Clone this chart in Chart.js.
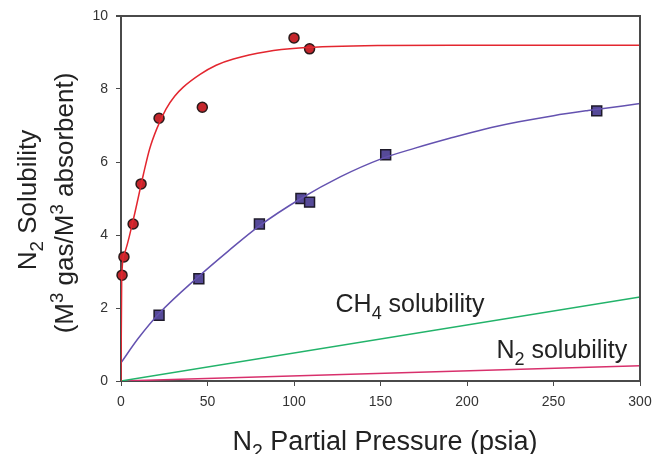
<!DOCTYPE html>
<html>
<head>
<meta charset="utf-8">
<script src="https://cdn.jsdelivr.net/npm/chart.js@4"></script>
<style>
  html, body { margin: 0; padding: 0; background: #fff; }
  #wrap { width: 653px; height: 454px; }
</style>
</head>
<body>
<div id="wrap"><canvas id="solCanvas" width="653" height="454"></canvas></div>
<script>
// measured N2 solubility, absorbent A (circles) and B (squares)
const redX = [0.6, 1.7, 7, 11.6, 22, 47, 100, 109];
const redY = [2.9, 3.4, 4.3, 5.4, 7.2, 7.5, 9.4, 9.1];
const blueX = [22, 45, 80, 104, 109, 153, 275];
const blueY = [1.8, 2.8, 4.3, 5.0, 4.9, 6.2, 7.4];

// fitted curves
const redFitX = [0, 0.4, 2, 7, 12.9, 16.5, 20.6, 26, 31, 36, 45.7, 55, 65, 84, 103, 150, 200, 300];
const redFitY = [0, 2.8, 3.5, 4.4, 5.65, 6.35, 6.9, 7.45, 7.8, 8.05, 8.4, 8.65, 8.82, 9.02, 9.12, 9.19, 9.2, 9.2];
const blueFitX = [0, 10, 22, 45, 62, 80, 104, 127, 150, 170, 190, 210, 230, 250, 270, 300];
const blueFitY = [0.5, 1.17, 1.85, 2.87, 3.56, 4.25, 5.0, 5.6, 6.08, 6.38, 6.65, 6.9, 7.1, 7.27, 7.41, 7.6];

// reference solubility lines
const ch4X = [0, 300];
const ch4Y = [0, 2.3];
const n2X = [0, 300];
const n2Y = [0, 0.42];

const xTicks = [0, 50, 100, 150, 200, 250, 300];
const yTicks = [0, 2, 4, 6, 8, 10];

function pts(xs, ys) {
    return xs.map(function (x, i) { return {x: x, y: ys[i]}; });
}

const FONT = '"Liberation Sans", Arial, sans-serif';

// draw text made of parts, some of them sub- or superscript
function richText(ctx, parts, x, y, size, align) {
    var widths = parts.map(function (p) {
        ctx.font = (p.sub || p.sup ? size * 0.72 : size) + 'px ' + FONT;
        return ctx.measureText(p.t).width;
    });
    var total = widths.reduce(function (a, b) { return a + b; }, 0);
    var cx = align === 'center' ? x - total / 2 : x;
    parts.forEach(function (p, i) {
        var dy = p.sub ? size * 0.28 : (p.sup ? -size * 0.38 : 0);
        ctx.font = (p.sub || p.sup ? size * 0.72 : size) + 'px ' + FONT;
        ctx.fillText(p.t, cx, y + dy);
        cx += widths[i];
    });
}

const decor = {
    id: 'decor',
    afterDraw: function (chart) {
        var ctx = chart.ctx;
        var a = chart.chartArea;
        var xs = chart.scales.x, ys = chart.scales.y;
        ctx.save();
        // frame on top and right
        ctx.strokeStyle = '#4a4a4a';
        ctx.lineWidth = 2;
        ctx.beginPath();
        ctx.moveTo(a.left - 5, a.top);
        ctx.lineTo(a.right, a.top);
        ctx.lineTo(a.right, a.bottom);
        ctx.stroke();

        ctx.fillStyle = '#222';
        ctx.textBaseline = 'alphabetic';
        ctx.textAlign = 'left';
        richText(ctx, [{t: 'CH'}, {t: '4', sub: true}, {t: ' solubility'}],
            xs.getPixelForValue(124), ys.getPixelForValue(1.9), 25, 'left');
        richText(ctx, [{t: 'N'}, {t: '2', sub: true}, {t: ' solubility'}],
            xs.getPixelForValue(217), ys.getPixelForValue(0.63), 25, 'left');

        // axis titles
        richText(ctx, [{t: 'N'}, {t: '2', sub: true}, {t: ' Partial Pressure (psia)'}],
            385, 450, 27, 'center');

        ctx.translate(36, 200);
        ctx.rotate(-Math.PI / 2);
        richText(ctx, [{t: 'N'}, {t: '2', sub: true}, {t: ' Solubility'}], 0, 0, 26, 'center');
        ctx.translate(0, 37);
        richText(ctx, [{t: '(M'}, {t: '3', sup: true}, {t: ' gas/M'}, {t: '3', sup: true}, {t: ' absorbent)'}],
            -3, 0, 26, 'center');
        ctx.restore();
    }
};

const ctx = document.getElementById('solCanvas');

var solChart = new Chart(ctx, {
    type: 'line',
    data: {
        datasets: [
            {
                label: 'fit A',
                data: pts(redFitX, redFitY),
                borderColor: '#e3262f',
                borderWidth: 1.5,
                pointRadius: 0,
                cubicInterpolationMode: 'monotone'
            },
            {
                label: 'absorbent A',
                data: pts(redX, redY),
                showLine: false,
                clip: false,
                pointStyle: 'circle',
                pointRadius: 5,
                pointBackgroundColor: '#c4262c',
                pointBorderColor: '#2a1a1a',
                pointBorderWidth: 1.5
            },
            {
                label: 'fit B',
                data: pts(blueFitX, blueFitY),
                borderColor: '#6452b0',
                borderWidth: 1.5,
                pointRadius: 0,
                cubicInterpolationMode: 'monotone'
            },
            {
                label: 'absorbent B',
                data: pts(blueX, blueY),
                showLine: false,
                clip: false,
                pointStyle: 'rect',
                pointRadius: 7,
                pointBackgroundColor: '#564a98',
                pointBorderColor: '#1e1a2a',
                pointBorderWidth: 1.5
            },
            {
                label: 'CH4',
                data: pts(ch4X, ch4Y),
                borderColor: '#22b36a',
                borderWidth: 1.5,
                pointRadius: 0
            },
            {
                label: 'N2',
                data: pts(n2X, n2Y),
                borderColor: '#d8306c',
                borderWidth: 1.5,
                pointRadius: 0
            }
        ]
    },
    options: {
        responsive: false,
        animation: false,
        layout: { padding: { top: 16, right: 13, left: 0, bottom: 0 } },
        plugins: { legend: { display: false }, tooltip: { enabled: false } },
        scales: {
            x: {
                type: 'linear',
                min: 0, max: 300,
                afterBuildTicks: function (s) { s.ticks = xTicks.map(function (v) { return {value: v}; }); },
                afterFit: function (s) { s.height = 73; s.paddingRight = 0; s.paddingLeft = 0; },
                border: { display: true, color: '#4a4a4a', width: 2 },
                grid: { drawOnChartArea: false, drawTicks: true, tickLength: 5, color: '#4a4a4a' },
                ticks: { padding: 8, color: '#333', font: { family: FONT, size: 14 }, maxRotation: 0 }
            },
            y: {
                type: 'linear',
                min: 0, max: 10,
                afterBuildTicks: function (s) { s.ticks = yTicks.map(function (v) { return {value: v}; }); },
                afterFit: function (s) { s.width = 121; s.paddingTop = 0; s.paddingBottom = 0; },
                border: { display: true, color: '#4a4a4a', width: 2 },
                grid: { drawOnChartArea: false, drawTicks: true, tickLength: 5, color: '#4a4a4a' },
                ticks: { padding: 8, color: '#333', font: { family: FONT, size: 14 } }
            }
        }
    },
    plugins: [decor]
});
</script>
</body>
</html>
